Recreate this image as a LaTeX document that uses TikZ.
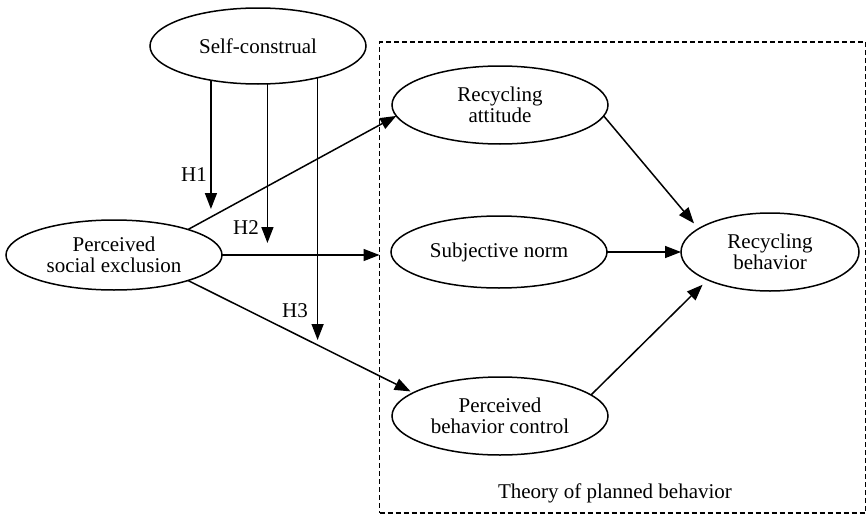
\documentclass[tikz,border=0pt]{standalone}
\usepackage{fontspec}
\setmainfont{Liberation Serif}
\usetikzlibrary{arrows.meta,shapes.geometric}
\begin{document}
\begin{tikzpicture}[x=1pt,y=-1pt,
  every node/.style={font=\fontsize{21}{21}\selectfont},
  oval/.style={ellipse,draw,line width=1.5pt,inner sep=0pt,outer sep=0pt,align=center},
  arr/.style={line width=1.5pt,-{Triangle[length=16pt,width=12pt]}},
  lbl/.style={inner sep=0pt}]
\useasboundingbox (0,0) rectangle (867,514);
% dashed frame
\node[draw,dash pattern=on 5pt off 3pt,line width=1.2pt,inner sep=0pt,outer sep=0pt,
      minimum width=486pt,minimum height=471pt] (tpb) at (622.5,277.5) {};
\node[lbl,anchor=base] (tpbl) at (615,498) {Theory of planned behavior};
% ovals
\node[oval,minimum width=216pt,minimum height=76pt] (sc) at (258,46) {Self-construal};
\node[oval,minimum width=216pt,minimum height=70pt] (pse) at (114,255) {Perceived\\social exclusion};
\node[oval,minimum width=216pt,minimum height=78pt] (ra) at (500,105) {Recycling\\attitude};
\node[oval,minimum width=216pt,minimum height=72pt] (sn) at (499,252) {Subjective norm};
\node[oval,minimum width=216pt,minimum height=78pt] (pbc) at (500,416) {Perceived\\behavior control};
\node[oval,minimum width=178pt,minimum height=78pt] (rb) at (770,252) {Recycling\\behavior};
% moderator arrows
\coordinate (e1) at (212,209);
\coordinate (e2) at (268,243);
\coordinate (e3) at (318,340);
\draw[arr] (sc.216.8) -- (sc.216.8 |- e1);
\draw[arr] (sc.284.8) -- (sc.284.8 |- e2);
\draw[arr] (sc.332.2) -- (sc.332.2 |- e3);
\node[lbl] (h1) at (194,175) {H1};
\node[lbl] (h2) at (246,228) {H2};
\node[lbl] (h3) at (295,311) {H3};
% main arrows
\draw[arr] (pse.19) -- (ra.186.4);
\draw[arr] (pse.east) -- (pse.east -| tpb.west);
\draw[arr,shorten >=3pt] (pse.341.8) -- (pbc.165.5);
\draw[arr,shorten >=7pt] (ra.354.5) -- (rb.162.3);
\draw[arr] (sn.east) -- (rb.west);
\draw[arr,shorten >=7pt] (pbc.13.7) -- (rb.204.3);
\end{tikzpicture}
\end{document}
